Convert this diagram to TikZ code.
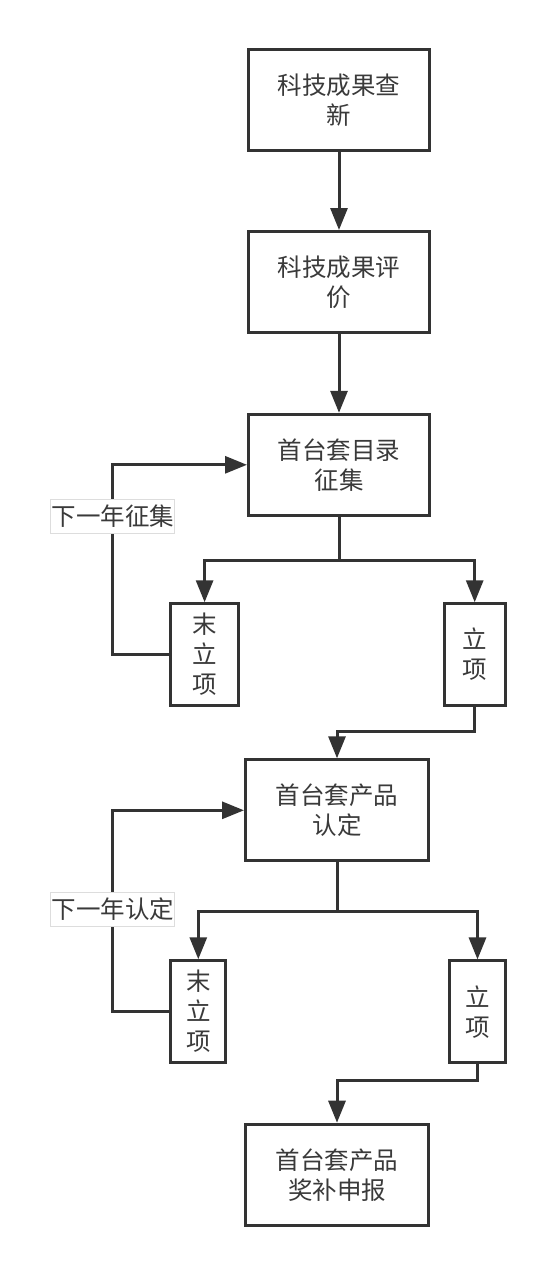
\documentclass[tikz,border=0pt]{standalone}
\usepackage{fontspec}
\setmainfont{Noto Sans CJK SC}
\usetikzlibrary{arrows.meta}
\definecolor{linec}{HTML}{333333}
\definecolor{textc}{HTML}{3A3A3A}
\definecolor{lblborder}{HTML}{DDDDDD}
\tikzset{
  stepbox/.style={draw=linec, line width=3pt, fill=white, text=textc, align=center,
    inner sep=0pt, font=\fontsize{24.5}{30}\selectfont},
  bigbox/.style={stepbox, minimum width=181pt, minimum height=101pt},
  smallbox/.style={stepbox, minimum height=101.5pt},
  arr/.style={draw=linec, line width=3pt, -{Triangle[length=22pt,width=17pt]}},
  plain/.style={draw=linec, line width=3pt},
  lbl/.style={draw=lblborder, line width=0.8pt, fill=white, text=textc, inner sep=0pt,
    minimum width=124pt, minimum height=34pt, font=\fontsize{24.5}{30}\selectfont}
}
\begin{document}
\begin{tikzpicture}[x=1pt,y=-1pt]
\useasboundingbox (0,0) rectangle (554,1275);
% main boxes
\node[bigbox] (b1) at (339,99.8) {科技成果查\\新};
\node[bigbox] (b2) at (339,282) {科技成果评\\价};
\node[bigbox] (b3) at (339,464.8) {首台套目录\\征集};
\node[bigbox, minimum width=183pt] (b4) at (337,810.3) {首台套产品\\认定};
\node[bigbox, minimum width=183pt] (b5) at (337,1174.7) {首台套产品\\奖补申报};
% small boxes
\node[smallbox, minimum width=67.7pt] (s1) at (204.6,654.5) {末\\立\\项};
\node[smallbox, minimum width=61pt] (s2) at (474.7,654.5) {立\\项};
\node[smallbox, minimum width=55pt] (s3) at (198.3,1011.5) {末\\立\\项};
\node[smallbox, minimum width=55.4pt] (s4) at (477.5,1011.7) {立\\项};
% junctions
\coordinate (j1) at (339,560);
\coordinate (j2) at (337,731.7);
\coordinate (j3) at (337,911);
\coordinate (j4) at (337,1080);
\coordinate (lx1) at (112.3,560);
\coordinate (lx2) at (112.3,911);
% connectors
\draw[arr] (b1) -- (b2);
\draw[arr] (b2) -- (b3);
\draw[plain] (b3.south) -- (j1);
\draw[arr] (j1) -| (s1.north);
\draw[arr] (j1) -| (s2.north);
\draw[arr] (s2.south) |- (j2) -- (b4.north);
\draw[arr] (s1.west) -| (lx1) |- (b3.west);
\draw[plain] (b4.south) -- (j3);
\draw[arr] (j3) -| (s3.north);
\draw[arr] (j3) -| (s4.north);
\draw[arr] (s4.south) |- (j4) -- (b5.north);
\draw[arr] (s3.west) -| (lx2) |- (b4.west);
% labels
\node[lbl] (t1) at (112.8,516) {下一年征集};
\node[lbl] (t2) at (112.8,909.2) {下一年认定};
\end{tikzpicture}
\end{document}
